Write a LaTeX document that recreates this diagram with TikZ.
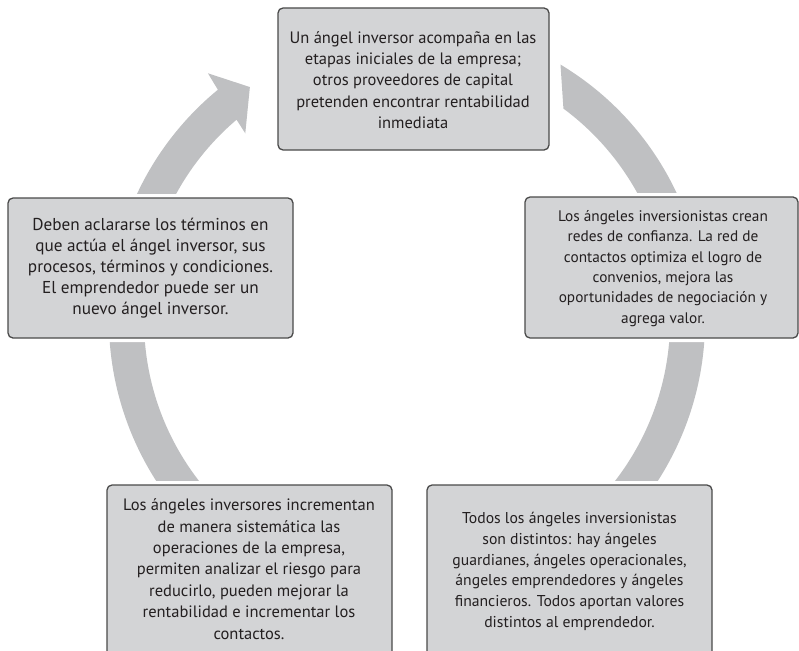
\documentclass[tikz,border=0pt]{standalone}
\usepackage{fontspec}
\setmainfont{PT Sans}
\definecolor{ringc}{HTML}{BFC0C2}
\definecolor{boxc}{HTML}{D3D4D6}
\definecolor{edgec}{HTML}{4A4A4A}
\definecolor{txtc}{HTML}{231F20}
\begin{document}
\begin{tikzpicture}[x=1pt,y=-1pt,
  box/.style={fill=boxc, draw=edgec, line width=1.3pt, rounded corners=5pt},
  gapbox/.style={fill=white, rounded corners=8pt},
  txt/.style={text=txtc, align=center, inner sep=0pt, font=\fontsize{16.5}{21.4}\selectfont},
  txtsmall/.style={txt, font=\fontsize{15.3}{20.4}\selectfont}]
\useasboundingbox (0,0) rectangle (799,650);
\clip (0,0) rectangle (799,650);
% circular arrow, in two pieces
\begin{scope}[shift={(407,320)}]
\fill[ringc] (-59:298) arc[start angle=-59, end angle=75, radius=298]
  -- (75:263) arc[start angle=75, end angle=-53.5, radius=263] -- cycle;
\fill[ringc] (105:298) arc[start angle=105, end angle=230.6, radius=298]
  -- (231.1:317) -- (236:281) -- (229.1:247) -- (229.6:263)
  arc[start angle=229.6, end angle=105, radius=263] -- cycle;
\end{scope}
% white gaps around boxes
\fill[gapbox] (274,4) rectangle (553,154);
\fill[gapbox] (521,193) rectangle (802,342);
\fill[gapbox] (4,194) rectangle (297,342);
\fill[gapbox] (103,481) rectangle (396,690);
\fill[gapbox] (423,481) rectangle (716,690);
% boxes
\draw[box] (278,8) rectangle (549,150);
\draw[box] (525,197) rectangle (798,338);
\draw[box] (8,198) rectangle (293,338);
\draw[box] (107,485) rectangle (392,690);
\draw[box] (427,485) rectangle (712,690);
% texts
\node[txt] (t1) at (413,80) {Un ángel inversor acompaña en las\\etapas iniciales de la empresa;\\otros proveedores de capital\\pretenden encontrar rentabilidad\\inmediata};
\node[txtsmall] (t2) at (663,268.5) {Los ángeles inversionistas crean\\redes de confianza. La red de\\contactos optimiza el logro de\\convenios, mejora las\\oportunidades de negociación y\\agrega valor.};
\node[txt, font=\fontsize{17.2}{21}\selectfont] (t3) at (150.5,268) {Deben aclararse los términos en\\que actúa el ángel inversor, sus\\procesos, términos y condiciones.\\El emprendedor puede ser un\\nuevo ángel inversor.};
\node[txt] (t4) at (249,569) {Los ángeles inversores incrementan\\de manera sistemática las\\operaciones de la empresa,\\permiten analizar el riesgo para\\reducirlo, pueden mejorar la\\rentabilidad e incrementar los\\contactos.};
\node[txtsmall, font=\fontsize{15.7}{20.7}\selectfont] (t5) at (569.5,571.5) {Todos los ángeles inversionistas\\son distintos: hay ángeles\\guardianes, ángeles operacionales,\\ángeles emprendedores y ángeles\\financieros. Todos aportan valores\\distintos al emprendedor.};
\end{tikzpicture}
\end{document}
